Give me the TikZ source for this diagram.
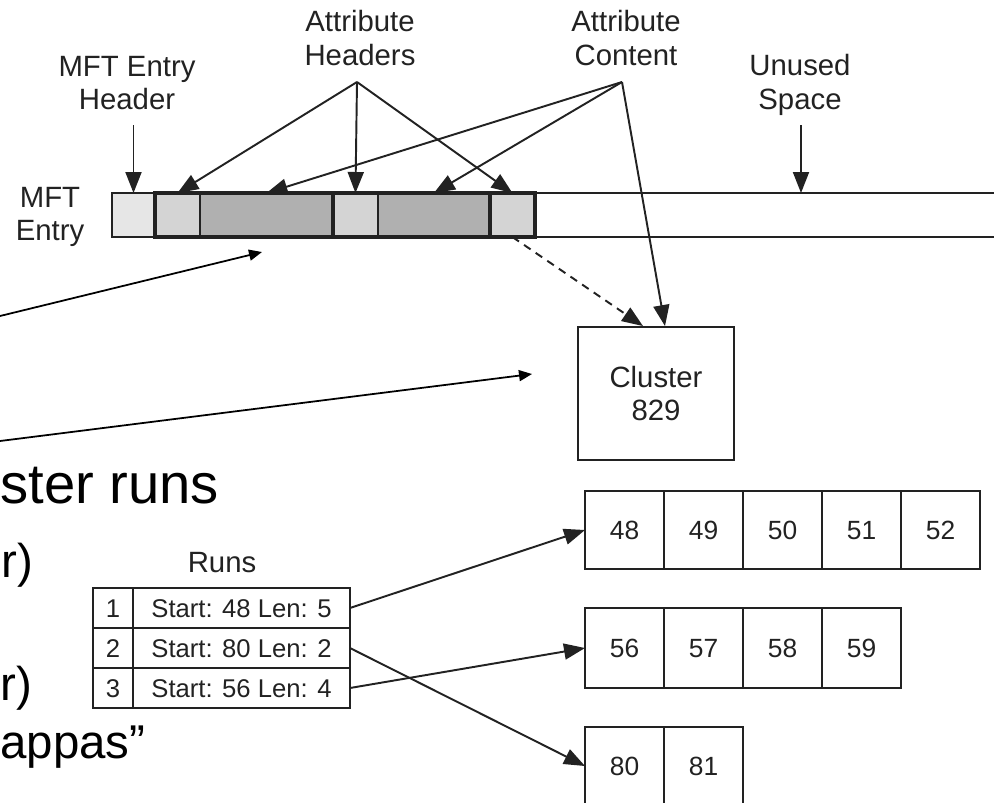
\documentclass[tikz,border=0pt]{standalone}
\usepackage{fontspec}
\setmainfont{Liberation Sans}
\usetikzlibrary{arrows.meta,positioning}
\definecolor{MFTInk}{HTML}{222222}
\definecolor{MFTHead}{HTML}{E6E6E6}
\definecolor{MFTAttr}{HTML}{D4D4D4}
\definecolor{MFTData}{HTML}{B0B0B0}
\tikzset{
  lbl/.style={text=MFTInk,align=center,font=\fontsize{16.7}{18.9}\selectfont},
  cellbox/.style={draw=MFTInk,line width=1.1pt,inner sep=0pt,outer sep=0pt,minimum height=0.88cm,
    text=MFTInk,text height=10.8pt,text depth=0pt,font=\fontsize{15}{18}\selectfont},
  ptr/.style={draw=MFTInk,line width=1.1pt,-{Triangle[length=0.42cm,width=0.32cm]}},
  slideptr/.style={draw=black,line width=1pt,-{Triangle[length=0.26cm,width=0.22cm]}},
  slidetxt/.style={anchor=base west,inner sep=0pt,text=black},
}
\begin{document}
\begin{tikzpicture}[x=0.02cm,y=-0.02cm]
\useasboundingbox (0,0) rectangle (994,802);
\clip (0,0) rectangle (994,802);

% the MFT entry bar
\node[cellbox,fill=MFTHead,minimum width=0.86cm] (mfthdr) at (133.5,215) {};
\node[cellbox,fill=MFTAttr,minimum width=0.9cm,right=0pt of mfthdr] (ah1) {};
\node[cellbox,fill=MFTData,minimum width=2.66cm,right=0pt of ah1] (ac1) {};
\node[cellbox,fill=MFTAttr,minimum width=0.9cm,right=0pt of ac1] (ah2) {};
\node[cellbox,fill=MFTData,minimum width=2.24cm,right=0pt of ah2] (ac2) {};
\node[cellbox,fill=MFTAttr,minimum width=0.9cm,right=0pt of ac2] (ah3) {};
\draw[MFTInk,line width=2.2pt] (ah1.north west) rectangle (ac1.south east);
\draw[MFTInk,line width=2.2pt] (ah2.north west) rectangle (ac2.south east);
\draw[MFTInk,line width=2.2pt] (ah3.north west) rectangle (ah3.south east);
\draw[MFTInk,line width=1.1pt] (ah3.north east) -- ++(480,0);
\draw[MFTInk,line width=1.1pt] (ah3.south east) -- ++(480,0);

% labels
\node[lbl] (lblentry) at (50,217) {MFT\\Entry};
\node[lbl] (lblhdr) at (127,83) {MFT Entry\\Header};
\node[lbl] (lblattrh) at (360,38) {Attribute\\Headers};
\node[lbl] (lblattrc) at (626,38) {Attribute\\Content};
\node[lbl] (lblunused) at (800,85) {Unused\\Space};

\node[draw=MFTInk,line width=1.1pt,minimum width=3.12cm,minimum height=2.66cm,lbl] (clu) at (656,393.5) {Cluster\\829};

\coordinate (hdrtail) at (133.5,125);
\coordinate (attrh) at (357,82);
\coordinate (attrc) at (622,82);
\coordinate (unusedtail) at (801,125);
\coordinate (unusedtip) at (801,193);
\draw[ptr] (hdrtail) -- (mfthdr.north);
\foreach \t in {ah1,ah2,ah3} \draw[ptr] (attrh) -- (\t.north);
\foreach \t in {ac1,ac2} \draw[ptr] (attrc) -- (\t.north);
\draw[ptr] (attrc) -- ([xshift=0.18cm]clu.north);
\draw[ptr,dash pattern=on 4.5pt off 3.5pt] (ah3.south) -- ([xshift=-0.26cm]clu.north);
\draw[ptr] (unusedtail) -- (unusedtip);

% slide text and its arrows
\coordinate (lefttop) at (0,316);
\coordinate (barpt) at (262,252);
\coordinate (leftlow) at (0,441);
\coordinate (clupt) at (532,374);
\draw[slideptr] (lefttop) -- (barpt);
\draw[slideptr] (leftlow) -- (clupt);
\node[slidetxt,font=\fontsize{32}{38}\selectfont] (runs) at (0,503) {ster runs};
\node[slidetxt,font=\fontsize{27}{32}\selectfont] (sub1) at (1,577) {r)};
\node[slidetxt,font=\fontsize{27}{32}\selectfont] (sub2) at (0,700) {r)};
\node[slidetxt,font=\fontsize{27}{32}\selectfont] (sub3) at (0,758) {appas”};

% runs table
\node[lbl,anchor=base] (runstitle) at (222,572) {Runs};
\foreach \i/\s/\l in {1/48/5,2/80/2,3/56/4} {
  \node[cellbox,minimum width=0.8cm,minimum height=0.8cm,font=\fontsize{14.6}{17}\selectfont] (n\i) at (113,{568+40*\i}) {\i};
  \node[cellbox,minimum width=4.34cm,minimum height=0.8cm,font=\fontsize{14.6}{17}\selectfont,right=0pt of n\i] (r\i) {Start: \s{} Len: \l};
}

% clusters of each run
\foreach \n [count=\i] in {48,...,52}
  \node[cellbox,minimum width=1.58cm,minimum height=1.56cm] (c\n) at ({545.5+79*\i},530) {\n};
\foreach \n [count=\i] in {56,...,59}
  \node[cellbox,minimum width=1.58cm,minimum height=1.6cm] (c\n) at ({545.5+79*\i},648) {\n};
\foreach \n [count=\i] in {80,81}
  \node[cellbox,minimum width=1.58cm,minimum height=1.56cm] (c\n) at ({545.5+79*\i},766) {\n};

\draw[ptr] (r1.east) -- (c48.west);
\draw[ptr] (r2.east) -- (c80.west);
\draw[ptr] (r3.east) -- (c56.west);
\end{tikzpicture}
\end{document}
